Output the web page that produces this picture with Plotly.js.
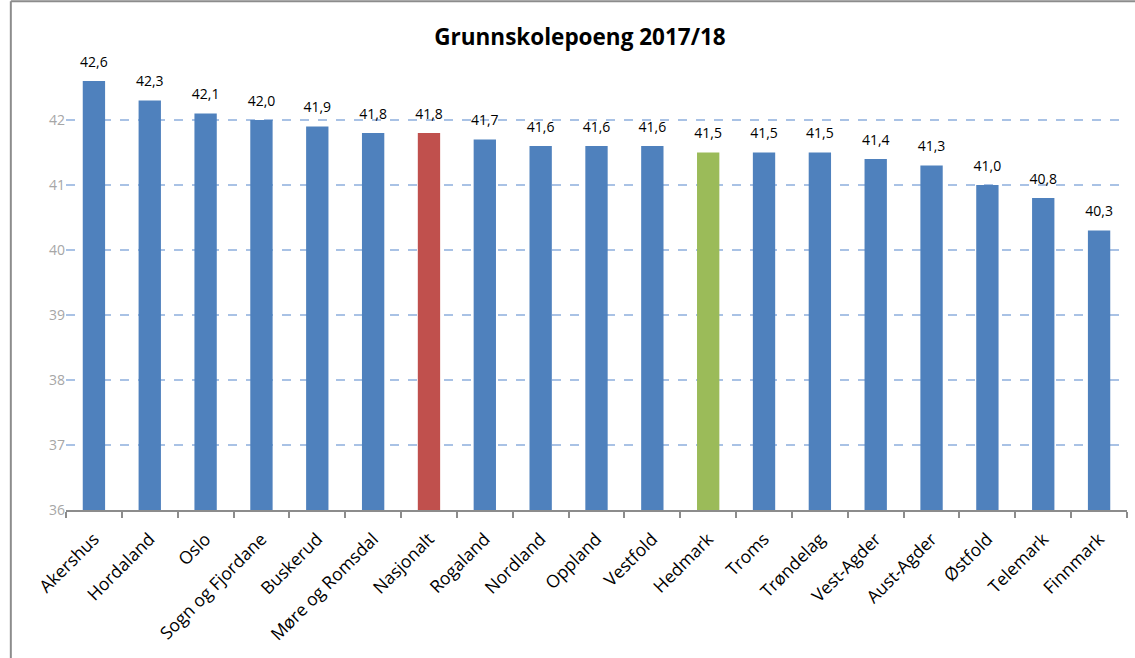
<!DOCTYPE html>
<html>
<head>
<meta charset="utf-8">
<script src="https://cdn.plot.ly/plotly-3.0.1.min.js"></script>
<style>html,body{margin:0;padding:0;background:#fff}#chart{width:1135px;height:658px}</style>
</head>
<body>
<div id="chart"></div>
<script>
const categories = ["Akershus","Hordaland","Oslo","Sogn og Fjordane","Buskerud","Møre og Romsdal","Nasjonalt","Rogaland","Nordland","Oppland","Vestfold","Hedmark","Troms","Trøndelag","Vest-Agder","Aust-Agder","Østfold","Telemark","Finnmark"];
const values = [42.6,42.3,42.1,42.0,41.9,41.8,41.8,41.7,41.6,41.6,41.6,41.5,41.5,41.5,41.4,41.3,41.0,40.8,40.3];
const yTicks = [36,37,38,39,40,41,42];
const highlight = {"Nasjonalt":"#c0504d","Hedmark":"#9bbb59"};
const baseColor = "#4f81bd";

const colors = categories.map(c => highlight[c] || baseColor);
const FONT = "'Open Sans', Lato, sans-serif";

const bars = {
  type: "bar",
  x: categories,
  y: values,
  marker: {color: colors},
  hoverinfo: "x+y"
};

const labels = {
  type: "scatter",
  mode: "markers+text",
  x: categories,
  y: values,
  text: values.map(v => v.toFixed(1).replace(".", ",")),
  textposition: "top center",
  textfont: {family: FONT, size: 14, color: "#000"},
  marker: {size: 16, color: "rgba(0,0,0,0)"},
  cliponaxis: false,
  hoverinfo: "skip"
};

const layout = {
  width: 1135, height: 658,
  separators: ",.",
  paper_bgcolor: "#fff", plot_bgcolor: "#fff",
  margin: {l: 66, r: 8, t: 55, b: 148},
  bargap: 0.6,
  showlegend: false,
  font: {family: FONT},
  title: {text: "<b>Grunnskolepoeng 2017/18</b>", xref: "container", x: 0.511, xanchor: "center", yref: "container", y: 0.944, yanchor: "middle", font: {family: FONT, size: 22.5, color: "#000"}},
  xaxis: {
    type: "category",
    range: [-0.5, categories.length - 0.5],
    autorange: false,
    tickangle: -45,
    tickfont: {family: FONT, size: 17.5, color: "#000"},
    showline: true, linecolor: "#8c8c8c", linewidth: 2,
    ticks: "outside", tickson: "boundaries", ticklen: 6, tickcolor: "#8c8c8c", tickwidth: 2,
    ticklabelstandoff: 10,
    showgrid: false
  },
  yaxis: {
    range: [36, 43],
    autorange: false,
    tickvals: yTicks,
    ticktext: yTicks.map(String),
    ticksuffix: "\u00a0\u00a0\u00a0\u00a0",
    tickfont: {family: FONT, size: 14, color: "#a6a6a6"},
    showline: false, zeroline: false,
    showgrid: true, gridcolor: "#a9c2e5", gridwidth: 1.5, griddash: "dash",
    ticks: ""
  },
  shapes: [
    {type: "line", xref: "paper", yref: "paper", x0: -0.052, x1: 1.02, y0: 1.118, y1: 1.118, line: {color: "#8c8c8c", width: 2}},
    {type: "line", xref: "paper", yref: "paper", x0: -0.052, x1: -0.052, y0: 1.118, y1: -0.5, line: {color: "#8c8c8c", width: 2}}
  ]
};

Plotly.newPlot("chart", [bars, labels], layout, {displayModeBar: false, staticPlot: true});
</script>
</body>
</html>
